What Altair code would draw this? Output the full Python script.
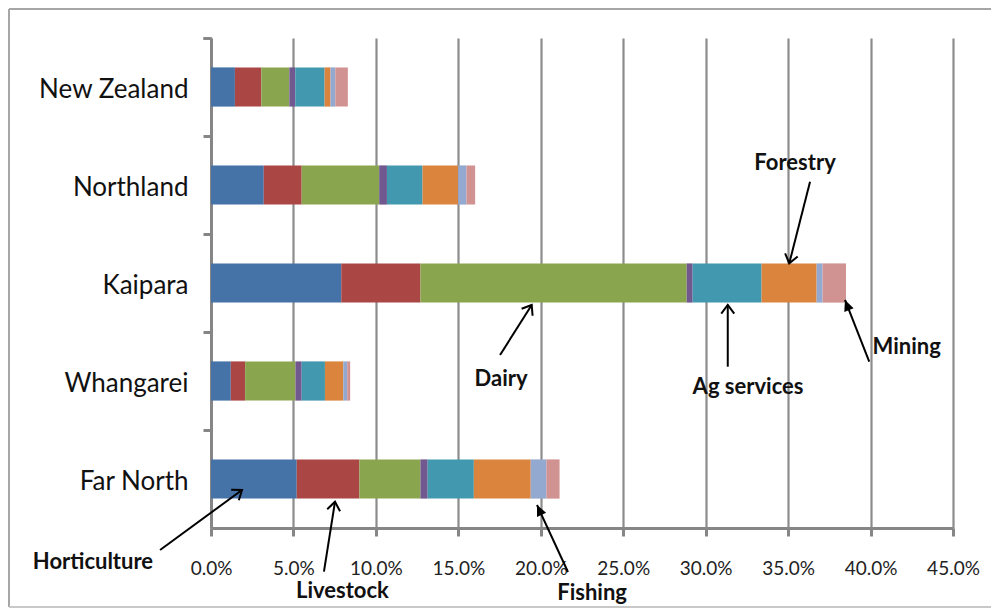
import math
import altair as alt
import pandas as pd

# ---------------- data ----------------
regions = ["New Zealand", "Northland", "Kaipara", "Whangarei", "Far North"]
sectors = ["Horticulture", "Livestock", "Dairy", "Other farming",
           "Ag services", "Forestry", "Fishing", "Mining"]
colors = ["#4572A7", "#AA4643", "#89A54E", "#71588F",
          "#4198AF", "#DB843D", "#93A9CF", "#D19392"]

# share of employment (%), in the order of `regions`
horticulture = [1.45, 3.2, 7.9, 1.2, 5.2]
livestock = [1.6, 2.3, 4.8, 0.87, 3.8]
dairy = [1.7, 4.7, 16.15, 3.05, 3.7]
other_farming = [0.36, 0.47, 0.36, 0.38, 0.44]
ag_services = [1.78, 2.16, 4.18, 1.41, 2.8]
forestry = [0.36, 2.16, 3.34, 1.11, 3.45]
fishing = [0.29, 0.5, 0.36, 0.24, 0.95]
mining = [0.76, 0.53, 1.42, 0.18, 0.8]

x_ticks = [0.0, 0.05, 0.10, 0.15, 0.20, 0.25, 0.30, 0.35, 0.40, 0.45]

# annotations: label position, arrow tail, arrow head (x as share, y in rows from top)
ann_labels = ["Horticulture", "Livestock", "Fishing", "Dairy",
              "Ag services", "Forestry", "Mining"]
ann_text_x = [-0.0716, 0.0797, 0.2311, 0.1759, 0.3257, 0.3542, 0.4219]
ann_text_y = [5.352, 5.643, 5.66, 3.480, 3.566, 1.276, 3.153]
ann_tail_x = [-0.0309, 0.0685, 0.2165, 0.1753, 0.3134, 0.3633, 0.3992]
ann_tail_y = [5.224, 5.446, 5.449, 3.235, 3.354, 1.466, 3.303]
ann_head_x = [0.0188, 0.0752, 0.1977, 0.1945, 0.3134, 0.3507, 0.3845]
ann_head_y = [4.612, 4.732, 4.765, 2.724, 2.724, 2.299, 2.673]
ann_filled = [False, False, True, False, False, False, True]

# ---------------- layout ----------------
W, H = 742, 490
FONT = "Lato"

series = [horticulture, livestock, dairy, other_farming,
          ag_services, forestry, fishing, mining]
rows = []
for si, (sec, vals) in enumerate(zip(sectors, series)):
    for reg, v in zip(regions, vals):
        rows.append({"region": reg, "sector": sec, "order": si, "share": v / 100})
df = pd.DataFrame(rows)

px_per_x = W / 0.45
px_per_row = H / 5
angles = []
for x1, y1, x2, y2 in zip(ann_tail_x, ann_tail_y, ann_head_x, ann_head_y):
    dx = (x2 - x1) * px_per_x
    dy = (y2 - y1) * px_per_row
    angles.append(math.degrees(math.atan2(dx, -dy)) % 360)

ann = pd.DataFrame({
    "label": ann_labels, "tx": ann_text_x, "ty": ann_text_y,
    "x1": ann_tail_x, "y1": ann_tail_y, "x2": ann_head_x, "y2": ann_head_y,
    "filled": ann_filled, "angle": angles,
})

x_scale = alt.Scale(domain=[0, 0.45], nice=False, zero=True)
row_scale = alt.Scale(domain=[0, 5], reverse=True, nice=False, zero=False)

bars = alt.Chart(df).mark_bar(height={"band": 0.4}).encode(
    x=alt.X("share:Q", stack="zero", scale=x_scale, title=None,
            axis=alt.Axis(values=x_ticks, format=".1%", labelFont=FONT,
                          labelFontSize=19, labelColor="#222222",
                          labelPadding=23, tickSize=8, tickWidth=3,
                          tickColor="#868686", domainColor="#868686",
                          domainWidth=3, grid=True, gridColor="#8c8c8c",
                          gridWidth=2.2, labelFlush=False)),
    y=alt.Y("region:N", sort=regions, title=None,
            scale=alt.Scale(paddingInner=0, paddingOuter=0),
            axis=alt.Axis(labelFont=FONT, labelFontSize=26,
                          labelColor="#111111", labelPadding=15,
                          labelOffset=3,
                          tickSize=8, tickWidth=3, tickColor="#868686",
                          domainColor="#868686", domainWidth=3,
                          bandPosition=0, tickExtra=True, grid=False)),
    color=alt.Color("sector:N", scale=alt.Scale(domain=sectors, range=colors),
                    legend=None),
    order=alt.Order("order:Q"),
)

arrows = alt.Chart(ann).mark_rule(color="black", strokeWidth=2).encode(
    x=alt.X("x1:Q", scale=x_scale),
    y=alt.Y("y1:Q", scale=row_scale, axis=None),
    x2="x2:Q",
    y2="y2:Q",
)

open_heads = alt.Chart(ann).transform_filter("!datum.filled").mark_point(
    shape="M -0.75 1 L 0 0 L 0.75 1", filled=False, color="black",
    strokeWidth=2, size=300, opacity=1,
).encode(
    x=alt.X("x2:Q", scale=x_scale),
    y=alt.Y("y2:Q", scale=row_scale, axis=None),
    angle=alt.Angle("angle:Q", scale=None),
)

filled_heads = alt.Chart(ann).transform_filter("datum.filled").mark_point(
    shape="M 0 0 L -0.6 1.3 L 0.6 1.3 Z", filled=True, color="black",
    size=280, opacity=1,
).encode(
    x=alt.X("x2:Q", scale=x_scale),
    y=alt.Y("y2:Q", scale=row_scale, axis=None),
    angle=alt.Angle("angle:Q", scale=None),
)

labels = alt.Chart(ann).mark_text(
    font=FONT, fontSize=22, fontWeight="bold", color="#111111",
    align="center", baseline="middle",
).encode(
    x=alt.X("tx:Q", scale=x_scale),
    y=alt.Y("ty:Q", scale=row_scale, axis=None),
    text="label:N",
)

frame_top = alt.Chart(ann).mark_rule(color="#a6a6a6", strokeWidth=2).encode(
    x=alt.value(-202), x2=alt.value(790), y=alt.value(-29))
frame_left = alt.Chart(ann).mark_rule(color="#a6a6a6", strokeWidth=2).encode(
    x=alt.value(-202), y=alt.value(-29), y2=alt.value(569))
frame_bottom = alt.Chart(ann).mark_rule(color="#c8c8c8", strokeWidth=2).encode(
    x=alt.value(-202), x2=alt.value(790), y=alt.value(569))

chart = alt.layer(
    frame_top, frame_left, frame_bottom,
    bars, arrows, open_heads, filled_heads, labels,
).resolve_scale(y="independent").properties(
    width=W, height=H,
    autosize=alt.AutoSizeParams(type="none"),
    padding={"left": 203, "top": 30, "right": 38, "bottom": 80},
    background="white",
).configure_view(strokeWidth=0)

chart.save("out.html", embed_options={"renderer": "svg", "actions": False})
